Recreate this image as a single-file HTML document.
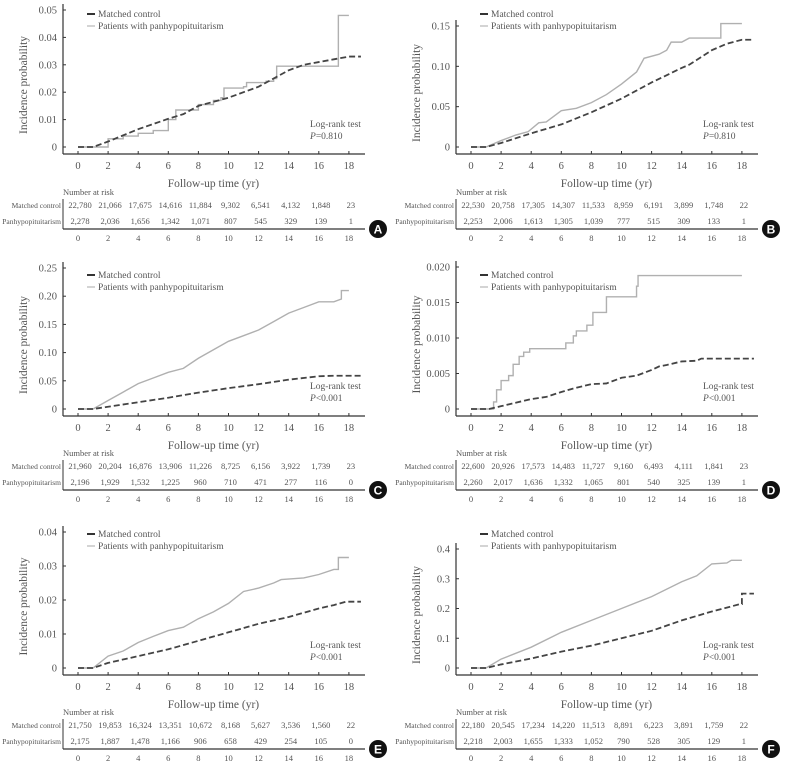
<!DOCTYPE html>
<html><head><meta charset="utf-8"><style>
body{margin:0;background:#fff;width:785px;height:763px;overflow:hidden}
svg{display:block;font-family:"Liberation Serif",serif}
svg text{font-family:"Liberation Serif",serif;fill:#555}
</style></head><body>
<svg id="fig" width="785" height="763" font-family="Liberation Serif, serif"></svg>
<script>
// Panel A
const aCtrlT=[0,1,2,4,6,7,8,10,12,13,14,15,16,17,18,18.8];
const aCtrlV=[0,0,0.002,0.0065,0.0103,0.012,0.015,0.018,0.022,0.025,0.028,0.030,0.031,0.032,0.033,0.033];
const aPatT=[0,1,2,3,4,5,6,6.5,8,9,9.5,9.7,11,11.2,12.5,13,13.2,17.3,18];
const aPatV=[0,0,0.003,0.004,0.005,0.006,0.010,0.0135,0.0155,0.017,0.018,0.0215,0.022,0.0235,0.024,0.025,0.0295,0.048,0.048];
const aTicks=[0,0.01,0.02,0.03,0.04,0.05];
const aTickLabels=["0","0.01","0.02","0.03","0.04","0.05"];
const aRiskCtrl=["22,780","21,066","17,675","14,616","11,884","9,302","6,541","4,132","1,848","23"];
const aRiskPat=["2,278","2,036","1,656","1,342","1,071","807","545","329","139","1"];
// Panel B
const bCtrlT=[0,1,2,4,6,8,10,12,14,14.5,16,17,18,18.8];
const bCtrlV=[0,0,0.005,0.017,0.028,0.043,0.060,0.080,0.098,0.102,0.120,0.128,0.133,0.133];
const bPatT=[0,1,2,3,3.8,4.5,5,6,7,8,9,10,11,11.5,12.5,13,13.3,14,14.5,16.6,16.6,18];
const bPatV=[0,0,0.008,0.015,0.019,0.030,0.031,0.045,0.048,0.055,0.065,0.078,0.093,0.110,0.115,0.120,0.130,0.130,0.135,0.135,0.153,0.153];
const bTicks=[0,0.05,0.10,0.15];
const bTickLabels=["0","0.05","0.10","0.15"];
const bRiskCtrl=["22,530","20,758","17,305","14,307","11,533","8,959","6,191","3,899","1,748","22"];
const bRiskPat=["2,253","2,006","1,613","1,305","1,039","777","515","309","133","1"];
// Panel C
const cCtrlT=[0,1,2,4,6,8,10,12,14,16,17,18.8];
const cCtrlV=[0,0,0.004,0.012,0.020,0.029,0.037,0.044,0.052,0.058,0.059,0.059];
const cPatT=[0,1,2,3,4,5,6,7,8,9,10,11,12,13,14,15,16,17,17.5,17.5,18];
const cPatV=[0,0,0.015,0.030,0.045,0.055,0.065,0.072,0.090,0.105,0.120,0.130,0.140,0.155,0.170,0.180,0.190,0.190,0.195,0.210,0.210];
const cTicks=[0,0.05,0.10,0.15,0.20,0.25];
const cTickLabels=["0","0.05","0.10","0.15","0.20","0.25"];
const cRiskCtrl=["21,960","20,204","16,876","13,906","11,226","8,725","6,156","3,922","1,739","23"];
const cRiskPat=["2,196","1,929","1,532","1,225","960","710","471","277","116","0"];
// Panel D
const dCtrlT=[0,1.2,2,3,4,5,6,7,8,9,10,11,12,12.5,13,14,15,15.3,18.8];
const dCtrlV=[0,0,0.0004,0.0009,0.0014,0.0017,0.0024,0.0030,0.0035,0.0036,0.0044,0.0047,0.0055,0.0060,0.0062,0.0067,0.0068,0.0071,0.0071];
const dPatT=[0,1.3,1.5,1.7,2,2.5,2.8,3.2,3.5,3.9,6.2,6.3,6.8,7,7.7,8.1,9,11,11.1,18];
const dPatV=[0,0,0.001,0.0027,0.004,0.0047,0.0063,0.0074,0.008,0.0085,0.0085,0.0093,0.0103,0.011,0.0118,0.0136,0.0158,0.0173,0.0188,0.0188];
const dTicks=[0,0.005,0.010,0.015,0.020];
const dTickLabels=["0","0.005","0.010","0.015","0.020"];
const dRiskCtrl=["22,600","20,926","17,573","14,483","11,727","9,160","6,493","4,111","1,841","23"];
const dRiskPat=["2,260","2,017","1,636","1,332","1,065","801","540","325","139","1"];
// Panel E
const eCtrlT=[0,1,2,4,6,8,10,12,14,16,17,17.8,18.8];
const eCtrlV=[0,0,0.0015,0.0035,0.0055,0.008,0.0105,0.013,0.015,0.0175,0.0185,0.0195,0.0195];
const ePatT=[0,1,2,3,4,5,6,7,8,9,10,11,12,13,13.5,15,16,17,17.3,17.3,18];
const ePatV=[0,0,0.0035,0.005,0.0075,0.0093,0.011,0.012,0.0145,0.0165,0.019,0.0225,0.0235,0.025,0.026,0.0265,0.0275,0.029,0.029,0.0325,0.0325];
const eTicks=[0,0.01,0.02,0.03,0.04];
const eTickLabels=["0","0.01","0.02","0.03","0.04"];
const eRiskCtrl=["21,750","19,853","16,324","13,351","10,672","8,168","5,627","3,536","1,560","22"];
const eRiskPat=["2,175","1,887","1,478","1,166","906","658","429","254","105","0"];
// Panel F
const fCtrlT=[0,1,2,4,6,8,10,12,14,16,17.9,18,18,18.8];
const fCtrlV=[0,0,0.012,0.032,0.055,0.075,0.100,0.125,0.160,0.190,0.215,0.215,0.250,0.250];
const fPatT=[0,1,2,4,6,8,10,12,14,15,16,17,17.3,18];
const fPatV=[0,0,0.030,0.070,0.120,0.160,0.200,0.240,0.290,0.310,0.350,0.353,0.362,0.362];
const fTicks=[0,0.1,0.2,0.3,0.4];
const fTickLabels=["0","0.1","0.2","0.3","0.4"];
const fRiskCtrl=["22,180","20,545","17,234","14,220","11,513","8,891","6,223","3,891","1,759","22"];
const fRiskPat=["2,218","2,003","1,655","1,333","1,052","790","528","305","129","1"];
const xTicks=[0,2,4,6,8,10,12,14,16,18];

const NS="http://www.w3.org/2000/svg";
const fig=document.getElementById('fig');
function mk(tag,attrs,parent,txt){const e=document.createElementNS(NS,tag);for(const k in attrs)e.setAttribute(k,attrs[k]);if(txt!==undefined)e.textContent=txt;parent.appendChild(e);return e;}

const panels=[
 {id:'a',L:'A',ox:0,oy:0,ax:63,top:10,zero:147,step:true,yt:aTicks,yl:aTickLabels,ct:aCtrlT,cv:aCtrlV,pt:aPatT,pv:aPatV,rc:aRiskCtrl,rp:aRiskPat,p:'=0.810'},
 {id:'b',L:'B',ox:394,oy:0,ax:62,top:26,zero:147,step:false,yt:bTicks,yl:bTickLabels,ct:bCtrlT,cv:bCtrlV,pt:bPatT,pv:bPatV,rc:bRiskCtrl,rp:bRiskPat,p:'=0.810'},
 {id:'c',L:'C',ox:0,oy:261,ax:63,top:7,zero:148,step:false,yt:cTicks,yl:cTickLabels,ct:cCtrlT,cv:cCtrlV,pt:cPatT,pv:cPatV,rc:cRiskCtrl,rp:cRiskPat,p:'<0.001'},
 {id:'d',L:'D',ox:394,oy:261,ax:62,top:6,zero:148,step:true,yt:dTicks,yl:dTickLabels,ct:dCtrlT,cv:dCtrlV,pt:dPatT,pv:dPatV,rc:dRiskCtrl,rp:dRiskPat,p:'<0.001'},
 {id:'e',L:'E',ox:0,oy:520,ax:63,top:12,zero:148,step:false,yt:eTicks,yl:eTickLabels,ct:eCtrlT,cv:eCtrlV,pt:ePatT,pv:ePatV,rc:eRiskCtrl,rp:eRiskPat,p:'<0.001'},
 {id:'f',L:'F',ox:394,oy:520,ax:62,top:29,zero:148,step:false,yt:fTicks,yl:fTickLabels,ct:fCtrlT,cv:fCtrlV,pt:fPatT,pv:fPatV,rc:fRiskCtrl,rp:fRiskPat,p:'<0.001'}
];

panels.forEach(P=>{
 const g=mk('g',{transform:`translate(${P.ox},${P.oy})`},fig);
 
 
 const x0=P.ax+15, xs=15.05;
 const X=t=>x0+t*xs;
 const ymax=P.yt[P.yt.length-1];
 const Y=v=>P.zero-(v/ymax)*(P.zero-P.top);
 const axisY=P.zero+7;
 const ya=mk('line',{x1:P.ax,y1:P.top-6,x2:P.ax,y2:axisY,stroke:'#333','stroke-width':1.2},g);
 
 
 const xa=mk('line',{x1:P.ax,y1:axisY,x2:P.ax+302,y2:axisY,stroke:'#333','stroke-width':1.2},g);
 
 
 P.yt.forEach((v,i)=>{
  mk('line',{x1:P.ax,y1:Y(v),x2:P.ax+3,y2:Y(v),stroke:'#333'},g);
  const t=mk('text',{x:P.ax-6,y:Y(v)+3.5,'text-anchor':'end','font-size':10.5},g,P.yl[i]);
  
  
 });
 xTicks.forEach(v=>{
  mk('line',{x1:X(v),y1:axisY,x2:X(v),y2:axisY-3,stroke:'#333'},g);
  const t=mk('text',{x:X(v),y:axisY+15,'text-anchor':'middle','font-size':10.5},g,String(v));
  
  
 });
 const yt=mk('text',{x:0,y:0,'text-anchor':'middle','font-size':11.5,transform:`translate(${P.ax-36},${(P.top+axisY)/2+3}) rotate(-90)`},g,'Incidence probability');
 
 
 const xt=mk('text',{x:X(9),y:axisY+33,'text-anchor':'middle','font-size':11.5},g,'Follow-up time (yr)');
 
 
 const lg=mk('g',{},g);
 
 
 mk('line',{x1:P.ax+24,y1:14,x2:P.ax+32,y2:14,stroke:'#333','stroke-width':2},lg);
 mk('text',{x:P.ax+35,y:17,'font-size':9.5},lg,'Matched control');
 mk('line',{x1:P.ax+24,y1:26,x2:P.ax+32,y2:26,stroke:'#aaa','stroke-width':1},lg);
 mk('text',{x:P.ax+35,y:29,'font-size':9.5},lg,'Patients with panhypopituitarism');
 const lr=mk('text',{x:P.ax+247,y:P.zero-20,'font-size':9.5},g,'Log-rank test');
 
 
 const pv=mk('text',{x:P.ax+247,y:P.zero-8,'font-size':9.5},g);
 
 
 mk('tspan',{'font-style':'italic'},pv,'P');
 mk('tspan',{},pv,P.p);
 let d='';
 P.pt.forEach((t,i)=>{
  if(i===0) d+=`M${X(t)},${Y(P.pv[i])}`;
  else if(P.step) d+=`H${X(t)}V${Y(P.pv[i])}`;
  else d+=`L${X(t)},${Y(P.pv[i])}`;
 });
 const pl=mk('path',{d:d,fill:'none',stroke:'#b0b0b0','stroke-width':1.4},g);
 
 
 let c='';
 P.ct.forEach((t,i)=>{ c+=(i?'L':'M')+X(t)+','+Y(P.cv[i]); });
 const cl=mk('path',{d:c,fill:'none',stroke:'#444','stroke-width':1.8,'stroke-dasharray':'6,3'},g);
 
 
 const nr=mk('text',{x:P.ax,y:195,'font-size':8.5},g,'Number at risk');
 
 
 mk('text',{x:P.ax-2,y:208,'text-anchor':'end','font-size':7.5},g,'Matched control');
 mk('text',{x:P.ax-2,y:224,'text-anchor':'end','font-size':7.5},g,'Panhypopituitarism');
 xTicks.forEach((v,i)=>{
  const a=mk('text',{x:X(v)+2,y:208,'text-anchor':'middle','font-size':8.5},g,P.rc[i]);
  
  
  const b=mk('text',{x:X(v)+2,y:224,'text-anchor':'middle','font-size':8.5},g,P.rp[i]);
  
  
  mk('text',{x:X(v),y:241,'text-anchor':'middle','font-size':8.5},g,String(v));
 });
 mk('line',{x1:P.ax,y1:199,x2:P.ax,y2:229,stroke:'#333'},g);
 mk('line',{x1:P.ax,y1:229,x2:P.ax+302,y2:229,stroke:'#333','stroke-width':1.2},g);
 const bd=mk('g',{},g);
 
 
 mk('circle',{cx:P.ax+315,cy:229,r:9,fill:'#111'},bd);
 const bt=mk('text',{x:P.ax+315,y:233.5,'text-anchor':'middle','font-size':12,'font-weight':'bold'},bd,P.L);
 bt.setAttribute('style','fill:#fff;font-family:"Liberation Sans",sans-serif');
});
</script>
</body></html>
